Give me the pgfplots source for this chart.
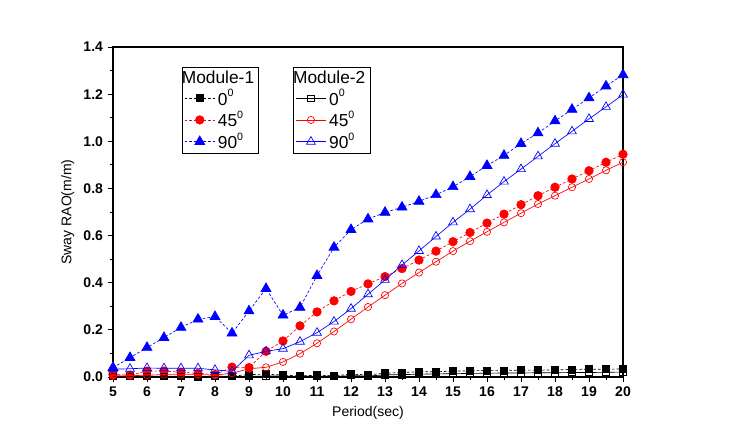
\documentclass[border=0pt]{standalone}
\usepackage{pgfplots}
\usepackage{pgfplotstable}
\pgfplotsset{compat=1.18}
\usepackage{fontspec}
\setmainfont{Liberation Sans}

\pgfplotstableread{
x    a0     a45    a90    b0     b45    b90
5    0.005  0.011  0.040  0.002  0.004  0.033
5.5  0.003  0.008  0.082  0.002  0.005  0.035
6    0.004  0.025  0.125  0.002  0.008  0.038
6.5  0.003  0.025  0.167  0.002  0.010  0.037
7    0.003  0.020  0.210  0.002  0.010  0.037
7.5  0.002  0.015  0.245  0.002  0.010  0.037
8    0.003  0.010  0.256  0.002  0.008  0.030
8.5  0.004  0.042  0.186  0.002  0.016  0.024
9    0.010  0.040  0.280  0.003  0.035  0.092
9.5  0.012  0.109  0.375  0.004  0.041  0.109
10   0.008  0.153  0.262  0.004  0.064  0.120
10.5 0.004  0.217  0.295  0.002  0.099  0.150
11   0.008  0.276  0.430  0.004  0.143  0.188
11.5 0.005  0.323  0.550  0.002  0.193  0.235
12   0.012  0.363  0.625  0.006  0.245  0.290
12.5 0.009  0.395  0.670  0.004  0.297  0.351
13   0.016  0.426  0.698  0.009  0.347  0.412
13.5 0.019  0.460  0.720  0.010  0.397  0.475
14   0.022  0.496  0.745  0.012  0.443  0.535
14.5 0.022  0.534  0.773  0.013  0.489  0.596
15   0.025  0.574  0.807  0.014  0.534  0.656
15.5 0.026  0.613  0.850  0.015  0.576  0.712
16   0.028  0.653  0.897  0.016  0.616  0.772
16.5 0.028  0.691  0.940  0.017  0.656  0.829
17   0.029  0.731  0.990  0.017  0.695  0.882
17.5 0.029  0.769  1.035  0.018  0.734  0.936
18   0.030  0.805  1.086  0.018  0.769  0.990
18.5 0.032  0.840  1.135  0.019  0.805  1.042
19   0.033  0.875  1.184  0.019  0.840  1.095
19.5 0.033  0.911  1.234  0.020  0.877  1.146
20   0.034  0.945  1.282  0.021  0.911  1.198
}\data

\definecolor{myblue}{RGB}{0,0,255}
\definecolor{myred}{RGB}{255,0,0}
\newcommand{\dg}[1]{#1\raisebox{0.9ex}{\fontsize{8}{9}\selectfont 0}}

\pgfplotsset{
  common/.style={
    scale only axis, width=382.5pt, height=247.5pt,
    xmin=5, xmax=20, ymin=0, ymax=1.4,
    at={(84.75pt,42.75pt)}, anchor=south west,
    legend cell align=left,
    legend image code/.code={
      \draw[mark repeat=2,mark phase=2] plot coordinates {(0cm,0cm) (0.4cm,0cm) (0.8cm,0cm)};
    },
    legend style={draw=black, line width=0.6pt, font=\fontsize{13}{15}\selectfont,
      inner xsep=1.5pt, inner ysep=0.5pt, row sep=-1pt, anchor=north west,
      /tikz/every even column/.append style={column sep=2pt}},
  },
  m1/.style={line width=0.5pt, dash pattern=on 2pt off 1.5pt},
  m2/.style={line width=0.5pt, solid},
}

\begin{document}
\begin{tikzpicture}
\useasboundingbox (0,0) rectangle (558.75pt,325.5pt);
\begin{axis}[common,
  axis line style={line width=0.8pt},
  tick align=outside, xtick pos=bottom, ytick pos=left,
  xtick={5,...,20}, minor x tick num=1,
  ytick={0,0.2,...,1.4}, minor y tick num=1,
  major tick length=4pt, minor tick length=2.5pt,
  tick style={line width=0.6pt, black},
  ticklabel style={font=\fontsize{10.5}{12}\selectfont\bfseries},
  /pgf/number format/assume math mode=true,
  yticklabel style={/pgf/number format/.cd, fixed, fixed zerofill, precision=1},
  xlabel={Period(sec)}, ylabel={Sway RAO(m/m)},
  label style={font=\fontsize{10.5}{12}\selectfont},
  legend style={at={(0.135,0.939)}},
]
\addlegendimage{empty legend}
\addlegendentry{\hspace*{-0.95cm}Module-1}
\addplot[m1, black, mark=square*, mark size=2.6pt, mark options={solid}] table[x=x,y=a0] {\data};
\addlegendentry{\dg{0}}
\addplot[m1, myred, mark=*, mark size=3.2pt, mark options={solid}] table[x=x,y=a45] {\data};
\addlegendentry{\dg{45}}
\addplot[m1, myblue, mark=triangle*, mark size=4.3pt, mark options={solid}] table[x=x,y=a90] {\data};
\addlegendentry{\dg{90}}
\end{axis}
\begin{axis}[common, hide axis,
  legend style={at={(0.353,0.939)}},
]
\addlegendimage{empty legend}
\addlegendentry{\hspace*{-0.95cm}Module-2}
\addplot[m2, black, mark=square, mark size=2.4pt, mark options={solid, fill=white}] table[x=x,y=b0] {\data};
\addlegendentry{\dg{0}}
\addplot[m2, myred, mark=o, mark size=2.7pt, mark options={solid, fill=white}] table[x=x,y=b45] {\data};
\addlegendentry{\dg{45}}
\addplot[m2, myblue, mark=triangle, mark size=3.8pt, mark options={solid, fill=white}] table[x=x,y=b90] {\data};
\addlegendentry{\dg{90}}
\end{axis}
\end{tikzpicture}
\end{document}
